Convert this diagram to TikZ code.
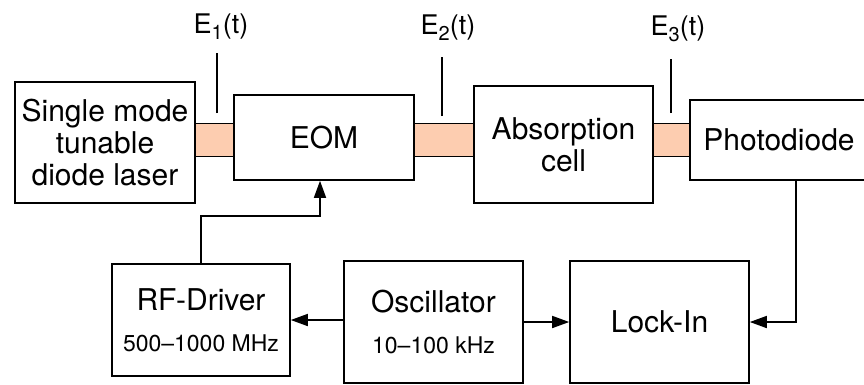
\documentclass[tikz,border=0pt]{standalone}
\usepackage{fontspec}
\setmainfont{TeX Gyre Heros}
\usetikzlibrary{arrows.meta, backgrounds}
\definecolor{peach}{RGB}{253,205,176}
\newcommand{\bigsz}{\fontsize{30}{32}\selectfont}
\newcommand{\smallsz}{\fontsize{23}{26}\selectfont}
\newcommand{\labsz}{\fontsize{27}{30}\selectfont}
\newcommand{\Et}[1]{E\raisebox{-0.24em}{\fontsize{20}{20}\selectfont #1}(t)}

\begin{document}
\begin{tikzpicture}[x=1pt, y=-1pt, line width=1.6pt, >={Triangle[length=17pt,width=12pt]},
  blk/.style={draw, fill=white, inner sep=0pt, align=center, font=\bigsz},
  sig/.style={->}]
  \useasboundingbox (0,0) rectangle (864,384);
  % optical path
  \node[blk, minimum width=180pt, minimum height=121pt] (laser) at (105,142.5) {Single mode\\tunable\\diode laser};
  \node[blk, minimum width=180pt, minimum height=85pt] (eom) at (324,137.5) {EOM};
  \node[blk, minimum width=179pt, minimum height=117pt] (cell) at (563.5,144.5) {Absorption\\cell};
  \node[blk, minimum width=178pt, minimum height=80pt] (pd) at (779,140) {Photodiode};
  % electronics
  \node[blk, minimum width=178pt, minimum height=112pt] (rf) at (201,320) {RF-Driver\\[9pt]{\smallsz 500--1000 MHz}};
  \node[blk, minimum width=179pt, minimum height=122pt] (osc) at (433.5,322) {Oscillator\\[9pt]{\smallsz 10--100 kHz}};
  \node[blk, minimum width=179pt, minimum height=122pt] (lock) at (659.5,322) {Lock-In};
  % beams
  \begin{scope}[on background layer]
    \foreach \a/\b in {laser/eom, eom/cell, cell/pd} {
      \fill[peach] (\a.east |- 0,123) rectangle (\b.west |- 0,156);
      \draw (\a.east |- 0,123) -- (\b.west |- 0,123);
      \draw (\a.east |- 0,156) -- (\b.west |- 0,156);
    }
  \end{scope}
  % field labels
  \foreach \n/\x/\lx/\ly/\top/\bot in {1/217/221/33/53/113, 2/442/448/34/57/116, 3/671/678/35/59/113} {
    \node[font=\labsz, anchor=base, inner sep=0pt] (e\n) at (\lx,\ly) {\Et{\n}};
    \coordinate (t\n) at (\x,\bot);
    \draw (t\n) -- (t\n |- 0,\top);
  }
  % signals
  \draw[sig] (rf.north) -- ++(0,-47) -| ([xshift=-4pt]eom.south);
  \draw[sig] (osc.west |- rf.east) -- (rf.east);
  \draw[sig] (osc.east) -- (lock.west);
  \draw[sig] ([xshift=17pt]pd.south) |- (lock.east);
\end{tikzpicture}
\end{document}
